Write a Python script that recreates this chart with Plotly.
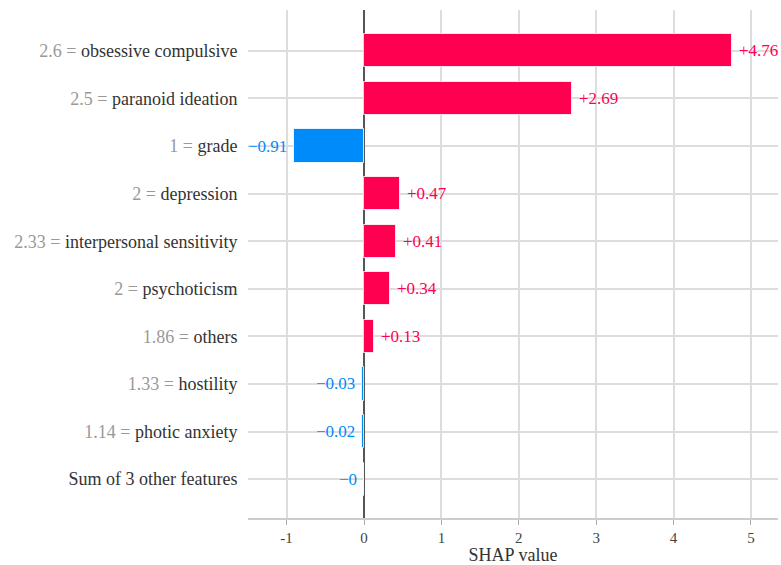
import plotly.graph_objects as go

# Feature values and their SHAP contributions for one sample
feature_values = ["2.6", "2.5", "1", "2", "2.33", "2", "1.86", "1.33", "1.14", ""]
feature_names = [
    "obsessive compulsive",
    "paranoid ideation",
    "grade",
    "depression",
    "interpersonal sensitivity",
    "psychoticism",
    "others",
    "hostility",
    "photic anxiety",
    "Sum of 3 other features",
]
shap_values = [4.76, 2.69, -0.91, 0.47, 0.41, 0.34, 0.13, -0.03, -0.02, -0.004]
x_ticks = [-1, 0, 1, 2, 3, 4, 5]

POS = "#ff0051"
NEG = "#008bfb"
FONT = "Liberation Serif"

n = len(shap_values)
ypos = [n - 1 - i for i in range(n)]
y_range = [-0.816, n - 1 + 0.858]
x_range = [-1.499, 5.349]


def fmt(v):
    s = f"{v:+.2f}".rstrip("0").rstrip(".")
    return s.replace("-", "\u2212")


def tick_label(val, name):
    if val:
        return f"<span style='color:#999999'>{val} = </span>{name}"
    return name


colors = [POS if v > 0 else NEG for v in shap_values]

fig = go.Figure()

# Zero reference line on the base axes (sits above the grid)
fig.add_trace(
    go.Scatter(
        x=[0, 0],
        y=y_range,
        mode="lines",
        line=dict(color="#555555", width=2),
        hoverinfo="skip",
        xaxis="x",
        yaxis="y",
    )
)

# Bars on an overlaid y axis so they are drawn over the zero line
fig.add_trace(
    go.Bar(
        x=shap_values,
        y=ypos,
        orientation="h",
        width=0.7,
        marker=dict(color=colors, line=dict(color="rgba(255,255,255,0.8)", width=1)),
        hoverinfo="skip",
        xaxis="x",
        yaxis="y2",
    )
)

# Value labels next to each bar
for v, y, c in zip(shap_values, ypos, colors):
    fig.add_annotation(
        x=v,
        y=y,
        xref="x",
        yref="y",
        text=fmt(v),
        showarrow=False,
        xanchor="left" if v > 0 else "right",
        xshift=5 if v > 0 else -5,
        font=dict(family=FONT, size=17, color=c),
    )

fig.update_layout(
    width=781,
    height=565,
    margin=dict(l=248, r=3, t=10, b=45),
    plot_bgcolor="white",
    paper_bgcolor="white",
    showlegend=False,
    font=dict(family=FONT, color="#333333"),
    bargap=0,
    xaxis=dict(
        range=x_range,
        tickvals=x_ticks,
        ticktext=[str(t) for t in x_ticks],
        showgrid=True,
        gridcolor="#dddddd",
        gridwidth=1.5,
        zeroline=False,
        showline=True,
        linecolor="#cccccc",
        linewidth=1.5,
        ticks="outside",
        ticklen=5,
        tickcolor="#aaaaaa",
        tickfont=dict(family=FONT, size=15, color="#444444"),
        title=dict(text="SHAP value", font=dict(family=FONT, size=18, color="#333333"), standoff=4),
    ),
    yaxis=dict(
        range=y_range,
        tickvals=ypos,
        ticktext=[tick_label(v, nm) for v, nm in zip(feature_values, feature_names)],
        showgrid=True,
        gridcolor="#dddddd",
        gridwidth=1.5,
        zeroline=False,
        showline=False,
        ticks="outside",
        ticklen=6,
        tickcolor="rgba(0,0,0,0)",
        tickfont=dict(family=FONT, size=18, color="#333333"),
    ),
    yaxis2=dict(
        range=y_range,
        overlaying="y",
        anchor="x",
        visible=False,
        showgrid=False,
        zeroline=False,
    ),
)

fig.write_html("out.html")
